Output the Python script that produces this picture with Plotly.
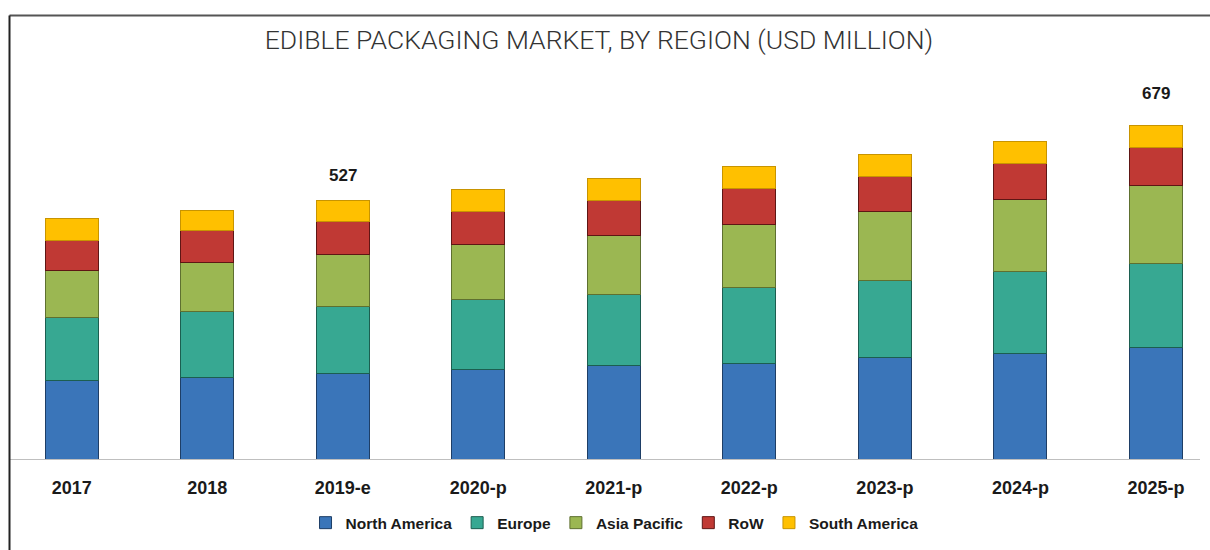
import plotly.graph_objects as go

# ---- data ----
years = ["2017", "2018", "2019-e", "2020-p", "2021-p", "2022-p", "2023-p", "2024-p", "2025-p"]
north_america = [159, 166, 175, 182, 191, 195, 207, 215, 227]
europe = [130, 134, 135, 142, 144, 155, 157, 167, 171]
asia_pacific = [94, 101, 106, 113, 121, 128, 140, 146, 160]
row = [63, 64, 68, 68, 71, 72, 71, 74, 77]
south_america = [43, 42, 43, 43, 44, 45, 45, 44, 44]
total_labels = {"2019-e": "527", "2025-p": "679"}

series = [
    ("North America", north_america, "#3A75B9", "#1E3E66"),
    ("Europe", europe, "#37A892", "#1C5E50"),
    ("Asia Pacific", asia_pacific, "#9BB752", "#5E7030"),
    ("RoW", row, "#C03934", "#5E1614"),
    ("South America", south_america, "#FFC000", "#C89400"),
]

W, H = 1210, 550
ML, MR, MT, MB = 10, 10, 80, 88.5
plot_w = W - ML - MR
plot_h = H - MT - MB
BOLD_FONT = "Liberation Sans, Arial, sans-serif"

fig = go.Figure()
for name, vals, color, edge in series:
    fig.add_trace(go.Bar(
        name=name, x=years, y=vals,
        marker=dict(color=color, line=dict(color=edge, width=1)),
        width=0.39,
    ))

totals = [sum(v) for v in zip(north_america, europe, asia_pacific, row, south_america)]
label_shift = {"2019-e": 13, "2025-p": 21}
for yr, txt in total_labels.items():
    i = years.index(yr)
    fig.add_annotation(
        x=yr, y=totals[i], text=txt, showarrow=False,
        yanchor="bottom", yshift=label_shift[yr],
        font=dict(family=BOLD_FONT, size=17, color="#1a1a1a", weight="bold"),
    )

def px_x(p):
    return (p - ML) / plot_w

def px_y(p):
    return (H - MB - p) / plot_h

# frame lines (left and top)
fig.add_shape(type="line", xref="paper", yref="paper",
              x0=px_x(9.5), x1=px_x(W + 5), y0=px_y(15), y1=px_y(15),
              line=dict(color="#555555", width=2))
fig.add_shape(type="line", xref="paper", yref="paper",
              x0=px_x(9.5), x1=px_x(9.5), y0=px_y(15), y1=px_y(H + 5),
              line=dict(color="#222222", width=2))

fig.update_layout(
    width=W, height=H,
    margin=dict(l=ML, r=MR, t=MT, b=MB),
    barmode="stack",
    paper_bgcolor="white", plot_bgcolor="white",
    title=dict(
        text="EDIBLE PACKAGING MARKET, BY REGION (USD MILLION)",
        x=0.495, xanchor="center", y=1 - 40 / H, yanchor="middle", xref="container", yref="container",
        font=dict(family="Roboto, sans-serif", size=26.5, color="#333333", weight=300),
    ),
    xaxis=dict(
        range=[-0.455, 8.325], showline=True, linecolor="#BFBFBF", linewidth=1,
        ticks="", showgrid=False, zeroline=False, ticklabelstandoff=12,
        tickfont=dict(family=BOLD_FONT, size=18, color="#1a1a1a", weight="bold"),
    ),
    yaxis=dict(range=[0, 772], visible=False, showgrid=False, zeroline=False),
    showlegend=True,
    legend=dict(
        orientation="h", x=0.508, xanchor="center", y=px_y(526), yanchor="middle",
        font=dict(family=BOLD_FONT, size=15.5, color="#1a1a1a", weight="bold"),
        itemclick=False, traceorder="normal",
    ),
)

fig.write_html("out.html")
